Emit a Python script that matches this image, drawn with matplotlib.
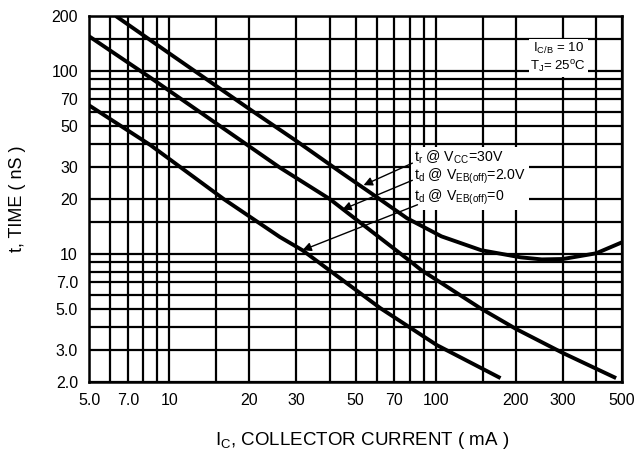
import matplotlib
matplotlib.use('Agg')
import matplotlib.pyplot as plt

plt.rcParams['font.family'] = 'Liberation Sans'
plt.rcParams['mathtext.fontset'] = 'custom'
plt.rcParams['mathtext.rm'] = 'Liberation Sans'
plt.rcParams['mathtext.it'] = 'Liberation Sans'
plt.rcParams['mathtext.default'] = 'regular'

# switching times (nS) against collector current (mA)
ic_tr = [6.3, 10, 20, 30, 44, 60, 78, 105, 148, 208, 250, 300, 400, 500]
t_tr = [200, 125, 62, 41.5, 28, 20.5, 15.7, 12.5, 10.5, 9.6, 9.35, 9.4, 10.1, 11.6]

ic_td2 = [5, 8.5, 26, 40, 79, 88, 147, 200, 300, 475]
t_td2 = [155, 92, 29.7, 20, 9.3, 8.2, 5.06, 3.9, 2.88, 2.1]

ic_td0 = [5, 8.5, 16, 26, 31.6, 62, 101, 175]
t_td0 = [65, 39.4, 20, 12.4, 10.5, 5.06, 3.18, 2.1]

x_ticks = [5, 7, 10, 20, 30, 50, 70, 100, 200, 300, 500]
x_labels = ['5.0', '7.0', '10', '20', '30', '50', '70', '100', '200', '300', '500']
x_minor = [6, 8, 9, 15, 40, 60, 80, 90, 150, 400]

y_ticks = [2, 3, 5, 7, 10, 20, 30, 50, 70, 100, 200]
y_labels = ['2.0', '3.0', '5.0', '7.0', '10', '20', '30', '50', '70', '100', '200']
y_minor = [4, 6, 8, 9, 15, 40, 60, 80, 90, 150]

fig = plt.figure(figsize=(6.38, 4.54), dpi=100)
ax = fig.add_axes([0.1395, 0.1586, 0.8355, 0.8062])
ax.set_xscale('log')
ax.set_yscale('log')
ax.set_xlim(5, 500)
ax.set_ylim(2, 200)

ax.set_xticks(x_ticks)
ax.set_xticklabels(x_labels)
ax.set_xticks(x_minor, minor=True)
ax.set_xticklabels([], minor=True)
ax.set_yticks(y_ticks)
ax.set_yticklabels(y_labels)
ax.set_yticks(y_minor, minor=True)
ax.set_yticklabels([], minor=True)
ax.tick_params(which='both', length=0, labelsize=11.5)
ax.tick_params(axis='x', pad=8)
ax.tick_params(axis='y', pad=8)
ax.grid(which='both', color='black', lw=1.6)
for s in ax.spines.values():
    s.set_linewidth(1.8)

for ic, t in [(ic_tr, t_tr), (ic_td2, t_td2), (ic_td0, t_td0)]:
    ax.plot(ic, t, color='black', lw=2.8, solid_capstyle='butt',
            solid_joinstyle='round', zorder=3)

ax.set_xlabel('$I_C$, COLLECTOR CURRENT ( mA )', fontsize=13.5)
ax.set_ylabel('t, TIME ( nS )', fontsize=13)
ax.xaxis.set_label_coords(0.512, -0.132)
ax.yaxis.set_label_coords(-0.118, 0.5)

# curve labels with leader arrows
ax.text(83, 26.2,
        '$t_r$ @ $V_{CC}$=30V\n$t_d$ @ $V_{EB(off)}$=2.0V\n$t_d$ @ $V_{EB(off)}$=0',
        fontsize=10.2, ha='left', va='center', linespacing=1.1, zorder=4,
        bbox=dict(facecolor='white', edgecolor='none', pad=2))
arrow = dict(arrowstyle='-|>', lw=1.0, color='black', mutation_scale=13,
             shrinkA=0, shrinkB=0)
ax.annotate('', xy=(53.6, 23.8), xytext=(81.7, 31.4), arrowprops=arrow, zorder=5)
ax.annotate('', xy=(44.6, 17.5), xytext=(81.7, 25.3), arrowprops=arrow, zorder=5)
ax.annotate('', xy=(31.6, 10.5), xytext=(85.4, 18.6), arrowprops=arrow, zorder=5)

ax.text(0.88, 0.885, '$I_{C/B}$ = 10\n$T_J$= 25$^o$C', transform=ax.transAxes,
        fontsize=9.5, ha='center', va='center', multialignment='center',
        linespacing=1.3, zorder=4,
        bbox=dict(facecolor='white', edgecolor='none', pad=1))

fig.savefig('out.png', dpi=100)
